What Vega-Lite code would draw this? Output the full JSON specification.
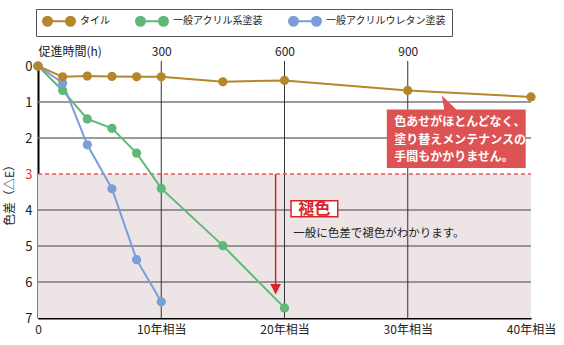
{
  "$schema": "https://vega.github.io/schema/vega-lite/v6.json",
  "width": 493,
  "height": 252,
  "autosize": "none",
  "padding": {"left": 38, "top": 66, "right": 33, "bottom": 27},
  "background": "white",
  "config": {"font": "Noto Sans CJK JP", "view": {"stroke": null}},
  "resolve": {"axis": {"x": "independent", "y": "independent"}},
  "layer": [
    {
      "data": {"values": [{"x": 0, "x2": 40, "y": 3, "y2": 7}]},
      "mark": {"type": "rect", "color": "#ede4e5"},
      "encoding": {
        "x": {"field": "x", "type": "quantitative", "scale": {"domain": [0, 40], "nice": false, "zero": false}, "axis": null},
        "x2": {"field": "x2"},
        "y": {"field": "y", "type": "quantitative", "scale": {"domain": [0, 7], "nice": false, "reverse": true}, "axis": null},
        "y2": {"field": "y2"}
      }
    },
    {
      "data": {"values": [{"y": 1, "x": 0, "x2": 40}, {"y": 2, "x": 0, "x2": 40}, {"y": 4, "x": 0, "x2": 40}, {"y": 5, "x": 0, "x2": 40}, {"y": 6, "x": 0, "x2": 40}]},
      "mark": {"type": "rule", "color": "#7a7a7a", "strokeWidth": 1.5},
      "encoding": {
        "x": {"field": "x", "type": "quantitative", "scale": {"domain": [0, 40], "nice": false, "zero": false}, "axis": null},
        "x2": {"field": "x2"},
        "y": {"field": "y", "type": "quantitative", "scale": {"domain": [0, 7], "nice": false, "reverse": true}, "axis": null}
      }
    },
    {
      "data": {"values": [{"x": 10, "y": -0.14, "y2": 7}, {"x": 20, "y": -0.14, "y2": 7}, {"x": 30, "y": -0.14, "y2": 7}]},
      "mark": {"type": "rule", "color": "#333333", "strokeWidth": 1},
      "encoding": {
        "x": {
          "field": "x", "type": "quantitative", "scale": {"domain": [0, 40], "nice": false, "zero": false},
          "axis": {
            "orient": "top", "values": [0, 10, 20, 30],
            "labelExpr": "datum.value == 0 ? '促進時間(h)' : format(datum.value * 30, 'd')",
            "labelAlign": {"condition": {"test": "datum.value == 0", "value": "left"}, "value": "center"},
            "domain": false, "ticks": false, "grid": false, "labelFontSize": 12, "labelColor": "#222222",
            "labelPadding": 8, "title": null, "labelFlush": false, "labelOverlap": false
          }
        },
        "y": {"field": "y", "type": "quantitative", "scale": {"domain": [0, 7], "nice": false, "reverse": true}, "axis": null},
        "y2": {"field": "y2"}
      }
    },
    {
      "data": {"values": [{"y": 3, "x": 0, "x2": 40}]},
      "mark": {"type": "rule", "color": "#e8575c", "strokeWidth": 1.5, "strokeDash": [4, 3]},
      "encoding": {
        "x": {"field": "x", "type": "quantitative", "scale": {"domain": [0, 40], "nice": false, "zero": false}, "axis": null},
        "x2": {"field": "x2"},
        "y": {"field": "y", "type": "quantitative", "scale": {"domain": [0, 7], "nice": false, "reverse": true}, "axis": null}
      }
    },
    {
      "data": {"values": [
        {"s": "一般アクリル系塗装", "x": 0, "y": 0},
        {"s": "一般アクリル系塗装", "x": 2, "y": 0.68},
        {"s": "一般アクリル系塗装", "x": 4, "y": 1.47},
        {"s": "一般アクリル系塗装", "x": 6, "y": 1.73},
        {"s": "一般アクリル系塗装", "x": 8, "y": 2.42},
        {"s": "一般アクリル系塗装", "x": 10, "y": 3.4},
        {"s": "一般アクリル系塗装", "x": 15, "y": 4.99},
        {"s": "一般アクリル系塗装", "x": 20, "y": 6.72},
        {"s": "一般アクリルウレタン塗装", "x": 0, "y": 0},
        {"s": "一般アクリルウレタン塗装", "x": 2, "y": 0.47},
        {"s": "一般アクリルウレタン塗装", "x": 4, "y": 2.19},
        {"s": "一般アクリルウレタン塗装", "x": 6, "y": 3.41},
        {"s": "一般アクリルウレタン塗装", "x": 8, "y": 5.38},
        {"s": "一般アクリルウレタン塗装", "x": 10, "y": 6.55},
        {"s": "タイル", "x": 0, "y": 0},
        {"s": "タイル", "x": 2, "y": 0.3},
        {"s": "タイル", "x": 4, "y": 0.28},
        {"s": "タイル", "x": 6, "y": 0.29},
        {"s": "タイル", "x": 8, "y": 0.3},
        {"s": "タイル", "x": 10, "y": 0.3},
        {"s": "タイル", "x": 15, "y": 0.44},
        {"s": "タイル", "x": 20, "y": 0.4},
        {"s": "タイル", "x": 30, "y": 0.68},
        {"s": "タイル", "x": 40, "y": 0.86}
      ]},
      "mark": {"type": "line", "strokeWidth": 2, "point": {"filled": true, "size": 85, "opacity": 1}},
      "encoding": {
        "x": {
          "field": "x", "type": "quantitative", "scale": {"domain": [0, 40], "nice": false, "zero": false},
          "axis": {
            "orient": "bottom", "values": [0, 10, 20, 30, 40],
            "labelExpr": "datum.value == 0 ? '0' : datum.value + '年相当'",
            "domainColor": "#000000", "domainWidth": 2, "ticks": false, "grid": false,
            "labelFontSize": 12, "labelColor": "#222222", "labelPadding": 6, "title": null,
            "labelFlush": false, "labelOverlap": false
          }
        },
        "y": {
          "field": "y", "type": "quantitative", "scale": {"domain": [0, 7], "nice": false, "reverse": true},
          "axis": {
            "orient": "left", "values": [0, 1, 2, 3, 4, 5, 6, 7],
            "domainColor": "#000000", "domainWidth": 2, "ticks": false, "grid": false,
            "labelFontSize": 13, "labelColor": {"condition": {"test": "datum.value == 3", "value": "#e8353a"}, "value": "#222222"},
            "labelPadding": 6, "title": "色差（△E）", "titleFontSize": 12, "titleFontWeight": "normal",
            "titleColor": "#222222", "titlePadding": 8, "labelFlush": false, "labelOverlap": false
          }
        },
        "color": {
          "field": "s", "type": "nominal",
          "scale": {"domain": ["タイル", "一般アクリル系塗装", "一般アクリルウレタン塗装"], "range": ["#b5862a", "#5fb877", "#7b9ed8"]},
          "legend": {
            "orient": "none", "legendX": -2, "legendY": -57, "direction": "horizontal",
            "title": null, "strokeColor": "#555555", "padding": 6,
            "symbolType": "M-2.3,0L2.3,0M-3.2,0A0.9,0.9 0 1,0 -1.4,0A0.9,0.9 0 1,0 -3.2,0ZM1.4,0A0.9,0.9 0 1,0 3.2,0A0.9,0.9 0 1,0 1.4,0Z",
            "symbolSize": 100, "symbolOffset": 11, "labelOffset": 15, "symbolStrokeWidth": 2,
            "labelFontSize": 10, "labelColor": "#222222", "columnPadding": 22,
            "encode": {"symbols": {"update": {
              "fill": {"scale": "color", "field": "value"},
              "stroke": {"scale": "color", "field": "value"},
              "strokeWidth": {"value": 2},
              "opacity": {"value": 1}
            }}}
          }
        }
      }
    },
    {
      "data": {"values": [{"x": 28.3, "x2": 39.57, "y": 1.21, "y2": 2.83}]},
      "mark": {"type": "rect", "color": "#dd5353"},
      "encoding": {
        "x": {"field": "x", "type": "quantitative", "scale": {"domain": [0, 40], "nice": false, "zero": false}, "axis": null},
        "x2": {"field": "x2"},
        "y": {"field": "y", "type": "quantitative", "scale": {"domain": [0, 7], "nice": false, "reverse": true}, "axis": null},
        "y2": {"field": "y2"}
      }
    },
    {
      "data": {"values": [{"x": 33.5, "y": 1.03}]},
      "mark": {"type": "point", "shape": "M-1,-0.833L-0.667,1.1L1,1.1Z", "size": 324, "filled": true, "color": "#dd5353", "opacity": 1, "strokeWidth": 0},
      "encoding": {
        "x": {"field": "x", "type": "quantitative", "scale": {"domain": [0, 40], "nice": false, "zero": false}, "axis": null},
        "y": {"field": "y", "type": "quantitative", "scale": {"domain": [0, 7], "nice": false, "reverse": true}, "axis": null}
      }
    },
    {
      "data": {"values": [{"x": 28.9, "y": 1.567, "t": "色あせがほとんどなく、\n塗り替えメンテナンスの\n手間もかかりません。"}]},
      "mark": {"type": "text", "lineBreak": "\n", "align": "left", "baseline": "middle", "fontSize": 12, "fontWeight": "bold", "color": "#ffffff", "lineHeight": 17.3},
      "encoding": {
        "x": {"field": "x", "type": "quantitative", "scale": {"domain": [0, 40], "nice": false, "zero": false}, "axis": null},
        "y": {"field": "y", "type": "quantitative", "scale": {"domain": [0, 7], "nice": false, "reverse": true}, "axis": null},
        "text": {"field": "t"}
      }
    },
    {
      "data": {"values": [{"x": 20.53, "x2": 24.32, "y": 3.74, "y2": 4.19}]},
      "mark": {"type": "rect", "fill": "#ffffff", "stroke": "#d9232b", "strokeWidth": 1.5},
      "encoding": {
        "x": {"field": "x", "type": "quantitative", "scale": {"domain": [0, 40], "nice": false, "zero": false}, "axis": null},
        "x2": {"field": "x2"},
        "y": {"field": "y", "type": "quantitative", "scale": {"domain": [0, 7], "nice": false, "reverse": true}, "axis": null},
        "y2": {"field": "y2"}
      }
    },
    {
      "data": {"values": [{"x": 22.42, "y": 3.96, "t": "褪色"}]},
      "mark": {"type": "text", "align": "center", "baseline": "middle", "fontSize": 16, "fontWeight": "bold", "color": "#d9232b"},
      "encoding": {
        "x": {"field": "x", "type": "quantitative", "scale": {"domain": [0, 40], "nice": false, "zero": false}, "axis": null},
        "y": {"field": "y", "type": "quantitative", "scale": {"domain": [0, 7], "nice": false, "reverse": true}, "axis": null},
        "text": {"field": "t"}
      }
    },
    {
      "data": {"values": [{"x": 20.7, "y": 4.66, "t": "一般に色差で褪色がわかります。"}]},
      "mark": {"type": "text", "align": "left", "baseline": "middle", "fontSize": 11.5, "color": "#222222"},
      "encoding": {
        "x": {"field": "x", "type": "quantitative", "scale": {"domain": [0, 40], "nice": false, "zero": false}, "axis": null},
        "y": {"field": "y", "type": "quantitative", "scale": {"domain": [0, 7], "nice": false, "reverse": true}, "axis": null},
        "text": {"field": "t"}
      }
    },
    {
      "data": {"values": [{"x": 19.28, "y": 3, "y2": 6.1}]},
      "mark": {"type": "rule", "color": "#d9232b", "strokeWidth": 1.5},
      "encoding": {
        "x": {"field": "x", "type": "quantitative", "scale": {"domain": [0, 40], "nice": false, "zero": false}, "axis": null},
        "y": {"field": "y", "type": "quantitative", "scale": {"domain": [0, 7], "nice": false, "reverse": true}, "axis": null},
        "y2": {"field": "y2"}
      }
    },
    {
      "data": {"values": [{"x": 19.28, "y": 6.2}]},
      "mark": {"type": "point", "shape": "M-1,-1L1,-1L0,1Z", "size": 112, "filled": true, "color": "#d9232b", "opacity": 1, "strokeWidth": 0},
      "encoding": {
        "x": {"field": "x", "type": "quantitative", "scale": {"domain": [0, 40], "nice": false, "zero": false}, "axis": null},
        "y": {"field": "y", "type": "quantitative", "scale": {"domain": [0, 7], "nice": false, "reverse": true}, "axis": null}
      }
    }
  ]
}
